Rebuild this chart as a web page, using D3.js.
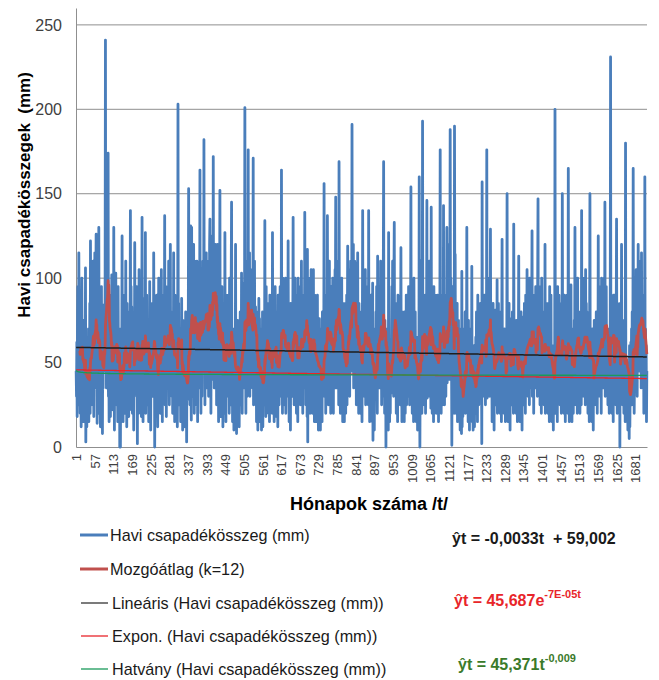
<!DOCTYPE html>
<html><head><meta charset="utf-8">
<script src="https://cdn.jsdelivr.net/npm/d3@7"></script>
<style>body{margin:0;background:#fff}text{font-family:"Liberation Sans",Arial,sans-serif}</style>
</head><body><svg id="c" width="659" height="680"></svg>
<script>
// Monthly precipitation totals (mm), t = 1..1716 (12 per row)
const precipitation = [
45,30,62,18,70,95,40,25,115,60,35,89,
20,55,80,12,48,100,35,60,28,72,15,75,
35,18,50,22,106,3,40,65,12,58,25,58,
30,70,15,62,40,85,20,122,45,58,25,88,
50,95,30,110,60,18,85,70,115,40,65,90,
126,35,55,14,80,40,62,20,130,45,60,77,
30,12,68,40,95,22,55,8,70,35,84,45,
80,80,45,95,241,60,90,35,105,90,85,82,
174,30,65,15,70,40,55,18,90,60,25,102,
40,75,22,60,35,130,48,10,88,55,30,103,
60,25,85,35,50,15,95,40,20,70,69,0,
30,0,55,70,20,45,125,35,60,15,80,29,
45,90,20,65,38,110,25,70,12,85,40,60,
35,70,18,80,50,25,60,140,42,95,22,83,
55,20,75,35,48,10,68,30,121,45,62,55,
70,40,95,60,2,88,30,55,20,105,45,86,
25,60,40,80,18,55,136,30,70,15,88,43,
65,30,85,45,127,20,60,38,90,25,75,60,
40,75,15,60,30,98,22,55,10,80,45,70,
55,85,30,70,40,115,60,90,0,48,35,56,
30,65,20,90,45,12,75,38,100,25,60,64,
48,20,80,55,105,30,65,15,90,40,70,78,
40,60,137,25,70,35,95,18,80,50,65,69,
85,40,110,55,25,95,70,120,35,80,48,65,
30,70,20,60,45,115,25,80,15,90,40,70,
20,55,35,70,12,50,203,40,85,25,60,65,
35,70,15,50,25,88,30,60,10,75,40,42,
25,50,12,65,30,80,20,45,3,55,28,43,
45,80,153,35,90,60,25,95,131,40,16,130,
60,100,30,85,45,120,55,20,110,70,95,86,
40,85,25,110,60,15,90,50,75,35,100,71,
164,40,75,20,95,55,30,88,45,110,60,58,
182,50,90,25,105,60,40,115,35,95,70,81,
65,110,30,95,55,120,135,40,85,20,105,100,
90,60,125,40,172,80,110,35,95,70,120,71,
55,100,25,80,45,120,30,70,15,95,60,85,
152,30,65,18,80,45,95,25,60,12,85,65,
40,70,20,127,35,60,15,90,45,75,30,65,
50,90,30,75,20,100,55,40,85,25,101,145,
30,55,15,65,25,65,10,70,35,60,26,120,
20,50,8,60,30,75,15,45,25,70,12,70,
45,80,25,70,35,103,50,20,95,60,40,97,
60,35,85,201,45,70,20,90,50,110,30,68,
75,176,40,95,60,115,30,85,55,105,45,91,
50,90,35,70,171,25,85,40,110,30,75,83,
25,60,15,80,35,55,10,70,30,88,20,76,
30,15,55,20,70,10,45,25,80,12,50,44,
45,80,25,134,40,70,18,95,55,30,85,79,
35,70,20,85,40,15,90,30,60,25,75,55,
50,20,127,40,65,30,80,15,70,45,95,47,
30,65,18,80,40,55,12,90,35,70,25,80,
60,95,30,80,45,164,35,70,20,100,50,79,
40,85,25,70,55,100,20,65,35,90,45,66,
30,122,40,60,15,75,35,55,10,85,45,64,
55,85,30,70,136,40,90,25,75,45,100,53,
40,75,20,90,35,60,15,100,30,70,45,92,
50,95,25,80,40,110,30,70,55,20,85,84,
60,90,35,139,50,85,25,95,80,70,18,117,
3,80,45,100,30,75,55,20,95,40,105,72,
35,70,20,85,50,105,25,60,15,90,45,72,
30,60,15,75,40,90,20,55,10,70,35,76,
25,55,10,70,35,20,60,15,80,30,45,47,
40,156,30,75,50,90,20,65,35,85,45,137,
55,90,25,80,40,110,30,70,50,20,95,79,
45,85,30,100,55,20,90,40,75,35,105,76,
148,60,95,35,80,50,110,40,90,25,169,70,
40,80,20,95,55,30,100,45,70,15,85,61,
30,70,15,60,45,85,20,55,35,90,25,70,
119,55,90,40,105,60,30,95,70,110,45,81,
70,191,45,100,60,120,35,85,55,110,40,109,
50,80,25,90,40,60,115,30,70,20,85,67,
35,65,20,75,45,30,80,15,60,140,40,67,
55,90,30,80,45,105,25,70,40,95,50,71,
40,70,25,140,35,60,15,85,45,30,90,61,
30,55,15,97,4,60,25,45,10,70,35,46,
45,80,30,95,50,20,113,60,85,35,70,61,
60,95,35,110,50,80,25,100,45,70,55,103,
169,30,60,20,75,40,55,0,70,25,65,51,
25,50,10,127,30,45,15,60,20,55,35,32,
60,95,40,110,55,85,30,100,133,45,70,77,
40,75,20,85,35,60,15,90,30,70,45,71,
35,65,25,70,118,30,55,15,80,45,60,62,
30,60,15,80,40,20,75,35,90,25,50,56,
50,85,30,95,45,70,25,90,40,80,154,52,
40,70,20,90,35,60,15,100,45,75,30,80,
25,55,15,65,30,45,10,60,20,50,41,160,
40,0,55,25,110,35,60,20,45,193,30,83,
50,80,25,70,40,90,20,60,35,75,146,29,
60,95,35,85,50,110,30,75,45,90,23,142,
40,75,20,85,30,60,15,95,45,70,35,90,
35,65,20,80,45,25,90,30,70,15,85,64,
45,80,176,30,60,20,75,40,90,25,70,45,
143,40,75,25,90,50,65,30,85,45,130,38,
70,110,45,95,60,120,40,85,188,55,100,88,
60,1,85,40,95,30,70,55,20,190,80,114,
35,70,20,60,45,85,15,55,30,75,40,70,
20,40,10,35,15,30,8,104,12,45,18,23,
45,70,25,60,35,80,20,65,40,50,130,52,
30,60,15,75,35,50,10,70,25,65,40,65,
20,107,15,45,25,10,50,30,60,12,40,42,
35,65,20,80,40,55,15,90,30,70,25,75,
45,75,30,85,40,65,55,2,157,35,50,45,
50,85,30,90,45,70,25,80,40,60,176,29,
60,95,35,80,50,100,30,75,45,129,55,62,
30,60,15,75,40,85,20,55,10,70,35,81,
40,70,25,80,35,99,20,60,30,85,45,59,
35,75,20,80,45,60,15,70,123,30,55,64,
30,60,20,70,35,55,15,65,25,50,49,150,
40,65,15,70,30,85,20,55,10,75,35,76,
45,70,25,80,35,60,20,132,40,75,30,60,
35,65,20,75,40,55,15,70,30,60,113,22,
30,60,15,70,35,80,20,50,10,65,40,77,
45,75,25,85,40,60,20,90,35,70,46,105,
50,85,30,95,40,70,25,100,45,75,35,70,
55,80,128,30,70,40,90,20,75,45,60,51,
60,95,35,90,50,80,30,100,147,45,70,38,
45,85,25,95,40,70,20,100,35,80,50,75,
40,70,25,80,35,120,20,65,45,85,30,81,
35,75,20,85,45,60,15,95,30,70,40,90,
25,50,15,60,30,45,10,55,20,50,40,200,
40,70,20,85,35,60,15,95,45,75,30,90,
45,80,25,75,40,60,20,85,35,150,50,55,
35,70,20,90,40,65,15,85,30,75,45,90,
40,65,20,165,30,55,15,70,35,80,25,96,
35,60,15,70,30,55,20,65,25,75,44,130,
50,85,25,95,40,70,20,100,35,80,45,75,
40,75,20,80,35,60,25,140,30,70,45,76,
55,90,30,100,45,75,25,105,40,85,50,80,
40,70,20,75,35,60,15,65,150,30,55,45,
30,60,15,70,35,50,10,65,25,75,40,65,
40,70,25,80,35,60,20,75,30,125,45,55,
50,85,30,95,40,75,20,100,45,80,35,89,
60,90,35,100,50,145,30,85,45,95,40,65,
45,70,25,60,35,55,20,65,30,75,231,33,
40,75,20,85,35,65,15,90,30,70,45,90,
50,80,25,75,135,40,20,85,35,70,45,60,
45,70,0,85,35,60,30,120,40,75,25,75,
35,60,20,55,30,45,15,180,25,50,35,50,
20,45,10,50,15,35,5,60,12,40,30,62,
40,70,25,80,35,55,165,30,60,20,45,35,
60,95,40,105,50,85,30,100,45,120,55,55,
70,110,45,100,55,95,35,115,60,90,50,75,
45,75,20,80,35,160,25,70,30,60,15,45
];
const yTickValues = [0, 50, 100, 150, 200, 250];
const xTickLabels = [1,57,113,169,225,281,337,393,449,505,561,617,673,729,785,841,897,953,1009,1065,1121,1177,1233,1289,1345,1401,1457,1513,1569,1625,1681];
const movingAverageK = [12];
const linearTrend = [-0.0033, 59.002];   // slope, intercept
const expTrend = [45.687, -7e-5];        // a, b  -> a*e^(b t)
const powerTrend = [45.371, -0.009];     // a, b  -> a*t^b
const legendLabels = ["Havi csapadékösszeg (mm)", "Mozgóátlag (k=12)", "Lineáris (Havi csapadékösszeg (mm))", "Expon. (Havi csapadékösszeg (mm))", "Hatvány (Havi csapadékösszeg (mm))"];
const eqMain = ["ŷt = -0,0033t  + 59,002", "ŷt = 45,687e", "ŷt = 45,371t"];
const eqSup = ["", "-7E-05t", "-0,009"];
const axisTitles = ["Havi csapadékösszegek  (mm)", "Hónapok száma /t/"];

(function () {
const svg = d3.select("#c");
const N = precipitation.length;
const t = d3.range(1, N + 1);
const pLeft = 76, pRight = 647, pTop = 8, pBottom = 447;
const x = d3.scaleLinear().domain([0.5, N + 0.5]).range([pLeft, pRight]);
const y = d3.scaleLinear().domain([0, 260]).range([pBottom, pTop]);

svg.append("rect").attr("width", 659).attr("height", 680).attr("fill", "#fff");

// gridlines
svg.append("g").selectAll("line").data(yTickValues.filter(v => v > 0)).join("line")
  .attr("x1", pLeft).attr("x2", pRight).attr("y1", d => y(d)).attr("y2", d => y(d))
  .attr("stroke", "#8f8f8f").attr("stroke-width", 1);

// y axis
const yAx = svg.append("g").attr("transform", `translate(${pLeft},0)`)
  .call(d3.axisLeft(y).tickValues(yTickValues).tickSize(0).tickPadding(14));
yAx.select(".domain").attr("stroke", "#8f8f8f");
yAx.selectAll("text").attr("font-size", 16).attr("fill", "#404040")
  .attr("font-family", "Liberation Sans, Arial, sans-serif");

// x axis
const xAx = svg.append("g").attr("transform", `translate(0,${pBottom})`)
  .call(d3.axisBottom(x).tickValues(xTickLabels).tickSize(0).tickFormat(d3.format("d")));
xAx.select(".domain").attr("stroke", "#8f8f8f");
xAx.selectAll("text").attr("font-size", 13).attr("fill", "#404040")
  .attr("font-family", "Liberation Sans, Arial, sans-serif")
  .attr("text-anchor", "end").attr("transform", "rotate(-90)")
  .attr("x", -7).attr("y", 0).attr("dy", "0.35em");

// main series
const line = d3.line().x(d => x(d[0])).y(d => y(d[1]));
svg.append("path").datum(t.map((tt, i) => [tt, precipitation[i]]))
  .attr("d", line).attr("fill", "none").attr("stroke", "#4a7ebb")
  .attr("stroke-width", 2.8).attr("stroke-linejoin", "round");

// moving average
const k = movingAverageK[0];
const ma = [];
for (let i = k - 1; i < N; i++) ma.push([t[i], d3.mean(precipitation.slice(i - k + 1, i + 1))]);
svg.append("path").datum(ma).attr("d", line).attr("fill", "none")
  .attr("stroke", "#c0504d").attr("stroke-width", 2.8).attr("stroke-linejoin", "round");

// trendlines
const lin = t.map(tt => [tt, linearTrend[0] * tt + linearTrend[1]]);
const ex = t.map(tt => [tt, expTrend[0] * Math.exp(expTrend[1] * tt)]);
const pw = t.map(tt => [tt, powerTrend[0] * Math.pow(tt, powerTrend[1])]);
svg.append("path").datum(lin).attr("d", line).attr("fill", "none").attr("stroke", "#1e1e1e").attr("stroke-width", 1.5);
svg.append("path").datum(ex).attr("d", line).attr("fill", "none").attr("stroke", "#e8252a").attr("stroke-width", 1.3);
svg.append("path").datum(pw).attr("d", line).attr("fill", "none").attr("stroke", "#1a9a5a").attr("stroke-width", 1.3);

// axis titles
svg.append("text").attr("transform", "translate(29.5,195) rotate(-90)").attr("text-anchor", "middle")
  .attr("font-size", 17).attr("font-weight", "bold").attr("fill", "#000").style("white-space", "pre")
  .text(axisTitles[0]);
svg.append("text").attr("x", 369).attr("y", 510).attr("text-anchor", "middle")
  .attr("font-size", 18).attr("font-weight", "bold").attr("fill", "#000").text(axisTitles[1]);

// legend
const legY = [535, 569, 603, 636, 669];
const legCol = ["#4a7ebb", "#c0504d", "#333333", "#e8252a", "#1a9a5a"];
const legW = [3, 3, 1.3, 1.3, 1.3];
const lg = svg.append("g");
legendLabels.forEach((lab, i) => {
  lg.append("line").attr("x1", i < 2 ? 80 : 81).attr("x2", 108).attr("y1", legY[i]).attr("y2", legY[i])
    .attr("stroke", legCol[i]).attr("stroke-width", legW[i]);
  lg.append("text").attr("x", i < 2 ? 110 : 112).attr("y", legY[i]).attr("dy", "0.36em")
    .attr("font-size", 16.2).attr("fill", "#1a1a1a").text(lab);
});

// equations
const eqX = [452, 454, 458];
const eqY = [538, 600, 664];
const eqCol = ["#1a1a1a", "#e8252a", "#3a7a2a"];
eqMain.forEach((s, i) => {
  const tx = svg.append("text").attr("x", eqX[i]).attr("y", eqY[i]).attr("dy", "0.36em")
    .attr("font-size", 16).attr("font-weight", "bold").attr("fill", eqCol[i]).style("white-space", "pre");
  tx.append("tspan").text(s);
  if (eqSup[i]) tx.append("tspan").attr("font-size", 11).attr("dy", "-0.75em").text(eqSup[i]);
});
})();
</script></body></html>
